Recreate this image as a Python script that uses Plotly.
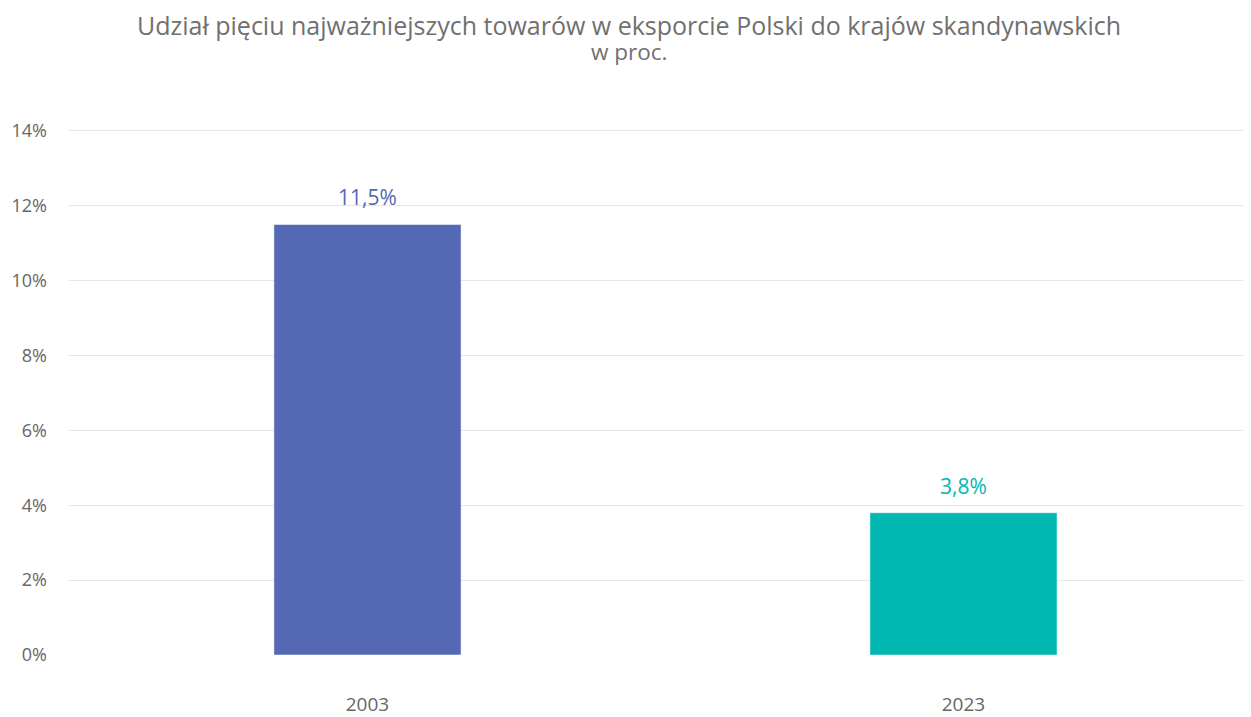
import plotly.graph_objects as go

years = ["2003", "2023"]
shares = [11.5, 3.8]
bar_colors = ["#5468B3", "#00B8B1"]
y_ticks = [0, 2, 4, 6, 8, 10, 12, 14]
y_tick_labels = [f"{v}%" for v in y_ticks]
title_lines = [
    "Udział pięciu najważniejszych towarów w eksporcie Polski do krajów skandynawskich",
    "w proc.",
]

fig = go.Figure(
    go.Bar(
        x=years,
        y=shares,
        marker_color=bar_colors,
        width=0.314,
        hoverinfo="skip",
    )
)

# value labels above the bars (x by category index)
for i, (val, col) in enumerate(zip(shares, bar_colors)):
    fig.add_annotation(
        x=i,
        y=val,
        text=f"{val:.1f}%".replace(".", ","),
        showarrow=False,
        yanchor="middle",
        yshift=27,
        font=dict(size=21, color=col, family="Open Sans"),
    )

# two-line title, placed in pixels above the plot area
for line, shift, size in zip(title_lines, [104, 78], [25, 22.5]):
    fig.add_annotation(
        x=0.4735,
        y=1,
        xref="paper",
        yref="paper",
        yshift=shift,
        text=line,
        showarrow=False,
        xanchor="center",
        yanchor="middle",
        font=dict(size=size, color="#707070", family="Open Sans"),
    )

fig.update_layout(
    width=1243,
    height=709,
    template="plotly_white",
    font=dict(family="Open Sans", color="#666666"),
    margin=dict(l=61, r=0, t=121, b=50),
    plot_bgcolor="white",
    paper_bgcolor="white",
    showlegend=False,
)

fig.update_xaxes(
    type="category",
    range=[-0.5008, 1.4824],
    showgrid=False,
    showline=False,
    zeroline=False,
    tickfont=dict(size=19, color="#666666"),
    ticklabelstandoff=36,
)
fig.update_yaxes(
    range=[0, 14.05],
    tickvals=y_ticks,
    ticktext=y_tick_labels,
    showgrid=True,
    gridcolor="#e6e6e6",
    gridwidth=1,
    zeroline=False,
    showline=False,
    tickfont=dict(size=18, color="#666666"),
    ticklabelstandoff=21,
)

fig.write_html("out.html")
